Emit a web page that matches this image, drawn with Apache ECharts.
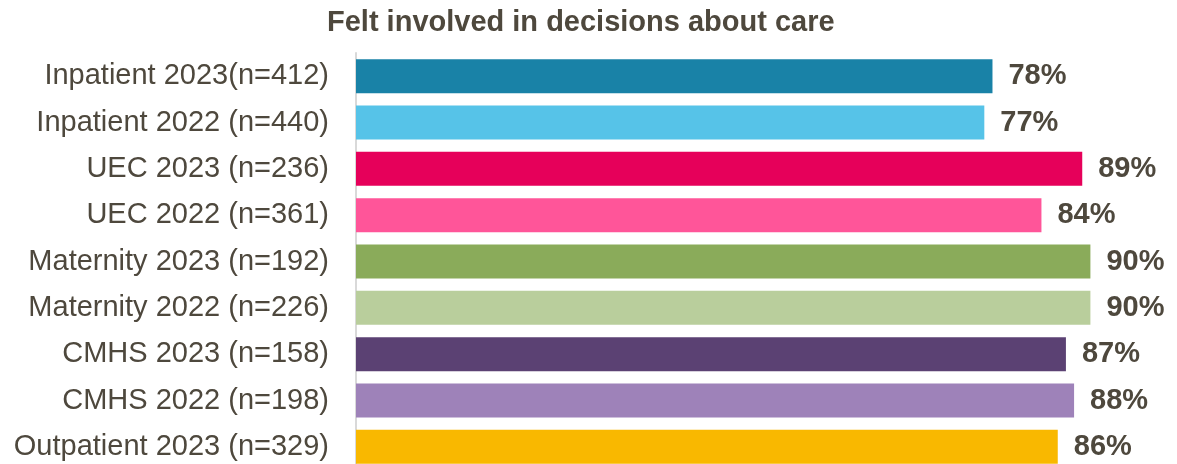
<!DOCTYPE html>
<html>
<head>
<meta charset="utf-8">
<script src="https://cdn.jsdelivr.net/npm/echarts@6/dist/echarts.min.js"></script>
<style>
  html, body { margin: 0; padding: 0; background: #ffffff; }
  #chart { width: 1177px; height: 464px; }
</style>
</head>
<body>
<div id="chart"></div>
<script>
// Survey groups, top to bottom
const categories = [
  'Inpatient 2023(n=412)',
  'Inpatient 2022 (n=440)',
  'UEC 2023 (n=236)',
  'UEC 2022 (n=361)',
  'Maternity 2023 (n=192)',
  'Maternity 2022 (n=226)',
  'CMHS 2023 (n=158)',
  'CMHS 2022 (n=198)',
  'Outpatient 2023 (n=329)'
];
// Share who felt involved in decisions about care (%)
const values = [78, 77, 89, 84, 90, 90, 87, 88, 86];
// One colour per group
const barColors = [
  '#1982A7', '#56C3E8', '#E6005A', '#FF5599',
  '#8AAB5A', '#B9CE9C', '#5B4173', '#9E82B9', '#F9B800'
];

const textColor = '#4E483D';
const chart = echarts.init(document.getElementById('chart'), null, { renderer: 'canvas' });

chart.setOption({
  animation: false,
  title: {
    text: 'Felt involved in decisions about care',
    left: 322,
    top: 3,
    textStyle: {
      fontFamily: 'Liberation Sans, Arial, sans-serif',
      fontSize: 29,
      fontWeight: 'bold',
      color: textColor
    }
  },
  grid: {
    left: 356, right: 5, top: 53, bottom: -6,
    containLabel: false,
    outerBoundsMode: 'none'
  },
  xAxis: {
    type: 'value',
    min: 0,
    max: 100,
    show: false
  },
  yAxis: {
    type: 'category',
    inverse: true,
    data: categories,
    axisLine: { show: true, lineStyle: { color: '#D9D9D9', width: 2 } },
    axisTick: { show: false },
    axisLabel: {
      margin: 27,
      fontFamily: 'Liberation Sans, Arial, sans-serif',
      fontSize: 29,
      color: textColor
    }
  },
  series: [{
    type: 'bar',
    barWidth: 34,
    data: values.map((v, i) => ({ value: v, itemStyle: { color: barColors[i] } })),
    label: {
      show: true,
      position: 'right',
      distance: 16,
      formatter: '{c}%',
      fontFamily: 'Liberation Sans, Arial, sans-serif',
      fontSize: 29,
      fontWeight: 'bold',
      color: textColor
    }
  }]
});
</script>
</body>
</html>
